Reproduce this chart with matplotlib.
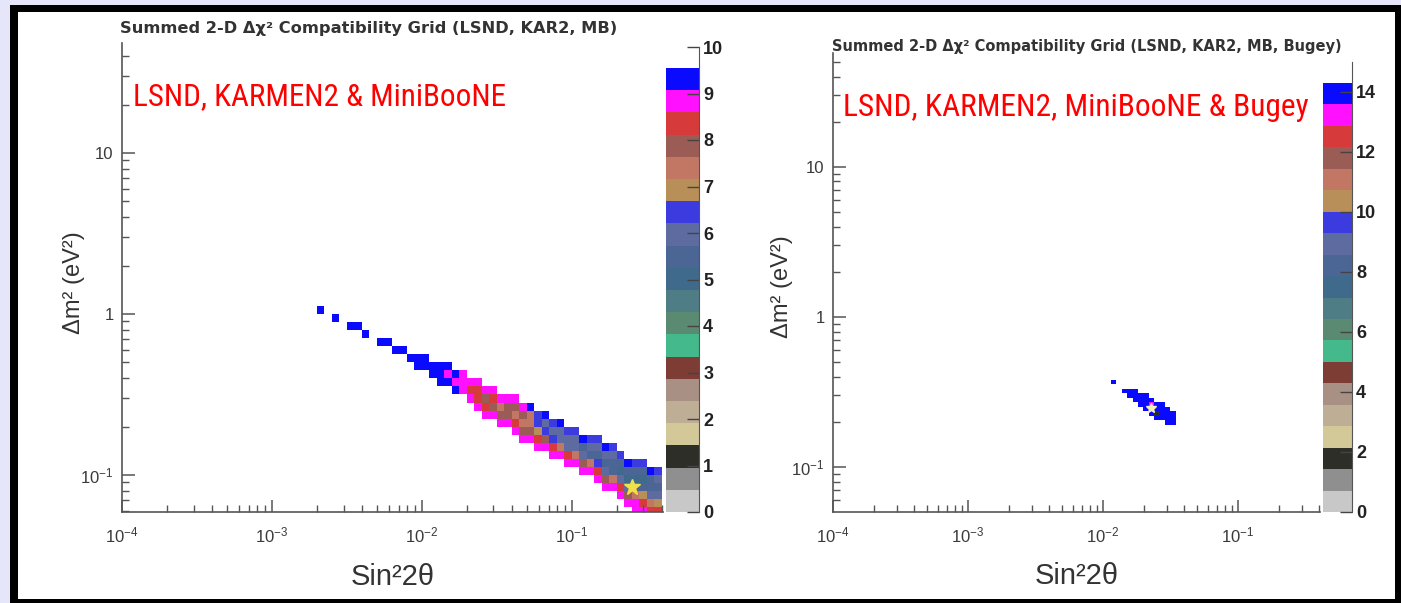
import numpy as np
import matplotlib
matplotlib.use('Agg')
import matplotlib.pyplot as plt
from matplotlib.colors import ListedColormap, BoundaryNorm
from matplotlib.patches import Rectangle
from matplotlib.font_manager import FontProperties, fontManager

W, H = 1401, 603

plt.rcParams['font.family'] = ['Liberation Sans', 'DejaVu Sans']
plt.rcParams['mathtext.fontset'] = 'custom'
plt.rcParams['mathtext.rm'] = 'Liberation Sans'
plt.rcParams['mathtext.it'] = 'Liberation Sans:italic'

# ROOT-like 20 level palette, low -> high
palette = ['#c8c8c8', '#8f8f8f', '#2e2e28', '#d2c898', '#bfae96',
           '#a99085', '#7d3d35', '#44b98c', '#5b8a72', '#4f7d86',
           '#3f6a8c', '#4b6595', '#5d6ba0', '#3b3be0', '#b88f58',
           '#c27765', '#9a5c55', '#d63a3a', '#ff10ff', '#0a0aff']

# ---- left panel: LSND, KARMEN2 & MiniBooNE ----
lsnd_zmax = 9.55
lsnd_zaxis = 10
# lowest dm2 of the allowed band in each sin^2 2theta column (0.05 decade wide)
lsnd_dm2_bottom = [1.0, 1.0, 0.891, 0.891, 0.794, 0.794, 0.708, 0.708, 0.631, 0.631,
                   0.562, 0.562, 0.501, 0.447, 0.447, 0.398, 0.355, 0.355, 0.316, 0.316,
                   0.282, 0.251, 0.224, 0.224, 0.200, 0.200, 0.178, 0.158, 0.158, 0.141,
                   0.141, 0.126, 0.126, 0.112, 0.112, 0.100, 0.100, 0.0891, 0.0794, 0.0794,
                   0.0708, 0.0631, 0.0562, 0.0562, 0.0501, 0.0501]
# summed delta chi2 of the band cells, bottom -> top
lsnd_chi2 = [
    [9.4], [], [9.3], [], [9.4], [9.3], [9.4], [], [9.3], [9.2],
    [9.3], [9.2], [9.3], [9.3, 9.2], [9.2, 9.3], [9.3, 9.1],
    [9.4, 9.1, 9.3], [9.2, 8.9, 9.4], [9.3, 8.8, 9.2], [8.9, 8.6, 9.0],
    [8.8, 8.4, 8.9], [9.0, 8.3, 8.2, 8.9], [8.9, 8.2, 7.9, 8.8], [8.8, 7.9, 8.3, 9.0],
    [8.9, 8.1, 7.6, 8.8], [8.8, 7.7, 7.9, 8.9],
    [9.0, 8.3, 7.5, 7.8, 8.9], [8.9, 8.1, 7.4, 7.9, 8.8], [8.8, 7.8, 7.2, 7.6, 9.2],
    [8.9, 8.2, 6.9, 6.5, 6.4], [8.8, 7.8, 6.4, 6.1, 9.3], [9.0, 8.3, 6.3, 6.0, 6.4],
    [8.8, 7.6, 6.1, 5.9, 9.3], [8.9, 8.2, 6.0, 5.8, 6.4], [8.8, 7.4, 5.9, 6.2, 6.5],
    [8.9, 8.1, 5.8, 5.6, 9.2], [8.8, 7.2, 5.7, 6.0, 6.5],
    [9.0, 8.3, 6.4, 5.5, 5.9, 6.4], [8.9, 8.0, 5.8, 5.4, 6.1, 9.3],
    [8.8, 7.5, 5.6, 5.3, 5.8, 6.4], [8.9, 8.2, 6.2, 5.2, 5.5, 6.5],
    [8.8, 7.9, 5.9, 5.1, 5.4, 9.1],
    [9.0, 8.6, 7.4, 5.6, 5.0, 5.5, 6.4], [8.9, 8.3, 6.8, 5.4, 5.1, 5.7, 6.4],
    [8.8, 8.5, 7.6, 6.1, 5.3, 5.6, 9.2], [8.9, 8.2, 7.1, 5.8, 5.4, 5.9, 6.5],
]

# ---- right panel: + Bugey ----
bugey_zmax = 14.3
bugey_zaxis = 15
bugey_dm2_bottom = [0.355, 0.355, 0.309, 0.288, 0.269, 0.251, 0.234, 0.219,
                    0.204, 0.204, 0.191, 0.191]
bugey_chi2 = [
    [14.0], [], [14.1], [13.9, 14.1], [14.0, 13.8, 14.1], [14.1, 13.7, 14.0],
    [14.0, 13.6, 13.9, 14.1], [14.1, 13.8, 13.5, 14.0], [13.9, 2.0, 13.7, 14.1],
    [14.0, 13.8, 13.9, 14.2], [14.0, 14.1, 13.9, 14.0], [14.1, 14.0, 14.1],
]

best_fit_s2t = [0.25, 0.0227]
best_fit_dm2 = [0.084, 0.247]

titles = ['Summed 2-D \u0394\u03c7\u00b2 Compatibility Grid (LSND, KAR2, MB)',
          'Summed 2-D \u0394\u03c7\u00b2 Compatibility Grid (LSND, KAR2, MB, Bugey)']
labels = ['LSND, KARMEN2 & MiniBooNE', 'LSND, KARMEN2, MiniBooNE & Bugey']


def find_narrow_font():
    prefer = ['Liberation Sans Narrow', 'Roboto Condensed', 'Open Sans Condensed',
              'Noto Sans Condensed', 'DejaVu Sans Condensed']
    found = {}
    for f in fontManager.ttflist:
        narrow = ('Narrow' in f.name or 'Condensed' in f.name
                  or str(f.stretch) in ('condensed', 'semi-condensed'))
        if narrow and str(f.weight) in ('400', 'normal', 'regular') and f.style == 'normal':
            found.setdefault(f.name, f.fname)
    for name in prefer:
        if name in found:
            return FontProperties(fname=found[name])
    if found:
        return FontProperties(fname=sorted(found.items())[0][1])
    return FontProperties(family='Liberation Sans')


def fig_rect(x0, y0, x1, y1):
    return [x0 / W, 1 - y1 / H, (x1 - x0) / W, (y1 - y0) / H]


def build_grid(x_edges, y_edges, bottoms, columns):
    z = np.full((len(y_edges) - 1, len(x_edges) - 1), np.nan)
    ly = np.log10(y_edges)
    for j, (b, vals) in enumerate(zip(bottoms, columns)):
        if not vals:
            continue
        k0 = int(np.argmin(np.abs(ly - np.log10(b))))
        z[k0:k0 + len(vals), j] = vals
    return np.ma.masked_invalid(z)


def style_axes(ax, ylim):
    ax.set_xscale('log')
    ax.set_yscale('log')
    ax.set_xlim(1e-4, 0.405)
    ax.set_ylim(*ylim)
    ax.patch.set_visible(False)
    for s in ('top', 'right'):
        ax.spines[s].set_visible(False)
    for s in ('left', 'bottom'):
        ax.spines[s].set_color('#555555')
        ax.spines[s].set_linewidth(1.2)
    ax.set_xticks([1e-4, 1e-3, 1e-2, 1e-1])
    ax.set_xticklabels(['$10^{-4}$', '$10^{-3}$', '$10^{-2}$', '$10^{-1}$'])
    ax.set_yticks([0.1, 1, 10])
    ax.set_yticklabels(['$10^{-1}$', '1', '10'])
    ax.xaxis.set_minor_locator(matplotlib.ticker.LogLocator(base=10, subs=np.arange(2, 10), numticks=30))
    ax.yaxis.set_minor_locator(matplotlib.ticker.LogLocator(base=10, subs=np.arange(2, 10), numticks=30))
    ax.xaxis.set_minor_formatter(matplotlib.ticker.NullFormatter())
    ax.yaxis.set_minor_formatter(matplotlib.ticker.NullFormatter())
    ax.tick_params(which='major', direction='in', length=9, width=1.1, color='#555555',
                   labelsize=12, labelcolor='#3a3a3a', pad=6)
    ax.tick_params(axis='x', which='major', pad=10)
    ax.tick_params(which='minor', direction='in', length=5, width=1.0, color='#555555')
    ax.set_xlabel('Sin\u00b22\u03b8', fontsize=21, color='#333333')
    ax.set_ylabel('\u0394m\u00b2 (eV\u00b2)', fontsize=17, color='#333333')


def draw_palette(cax, zmax, zaxis, step):
    levels = np.linspace(0, zmax, len(palette) + 1)
    centers = 0.5 * (levels[:-1] + levels[1:])
    cmap = ListedColormap(palette)
    norm = BoundaryNorm(levels, cmap.N)
    cax.pcolormesh([0, 1], levels, centers[:, None], cmap=cmap, norm=norm)
    cax.set_xlim(0, 1)
    cax.set_ylim(0, zaxis)
    cax.patch.set_visible(False)
    for s in ('top', 'left', 'bottom'):
        cax.spines[s].set_visible(False)
    cax.spines['right'].set_color('#555555')
    cax.set_xticks([])
    cax.yaxis.tick_right()
    cax.set_yticks(np.arange(0, zaxis + 0.01, step))
    cax.tick_params(axis='y', direction='in', length=9, width=1.0, color='#444444',
                    labelsize=13, labelcolor='#222222', pad=3)
    for t in cax.get_yticklabels():
        t.set_fontweight('bold')
    return cmap, norm


fig = plt.figure(figsize=(W / 100, H / 100), dpi=100)
fig.patch.set_facecolor('#e6e6fa')
fig.add_artist(Rectangle((10 / W, 0), (W - 10) / W, (H - 5) / H, transform=fig.transFigure,
                         facecolor='black', edgecolor='none', zorder=-10))
fig.add_artist(Rectangle((18 / W, 4 / H), (1395 - 18) / W, (599 - 12) / H, transform=fig.transFigure,
                         facecolor='white', edgecolor='none', zorder=-9))

# left panel
ax1 = fig.add_axes(fig_rect(122, 43, 663, 512))
cax1 = fig.add_axes(fig_rect(666, 47, 699, 512))
cmap1, norm1 = draw_palette(cax1, lsnd_zmax, lsnd_zaxis, 1)
x1 = np.logspace(-2.7, -0.4, 47)
y1 = np.logspace(-1.3, 0.2, 31)
style_axes(ax1, (0.0589, 48.2))
ax1.pcolormesh(x1, y1, build_grid(x1, y1, lsnd_dm2_bottom, lsnd_chi2), cmap=cmap1, norm=norm1)
ax1.plot(best_fit_s2t[0], best_fit_dm2[0], marker='*', ms=12, color='#f2e04a', mec='#f2e04a')
ax1.xaxis.set_label_coords(0.5, -0.108)
ax1.yaxis.set_label_coords(-0.068, 0.49)

# right panel
ax2 = fig.add_axes(fig_rect(833, 53, 1320, 512))
cax2 = fig.add_axes(fig_rect(1323, 62, 1352, 512))
cmap2, norm2 = draw_palette(cax2, bugey_zmax, bugey_zaxis, 2)
x2 = np.logspace(-1.94, -1.46, 13)
y2 = np.logspace(-0.75, -0.3, 16)
style_axes(ax2, (0.0501, 57.5))
ax2.pcolormesh(x2, y2, build_grid(x2, y2, bugey_dm2_bottom, bugey_chi2), cmap=cmap2, norm=norm2)
ax2.plot(best_fit_s2t[1], best_fit_dm2[1], marker='*', ms=7, color='#f4f0b0', mec='#f4f0b0')
ax2.xaxis.set_label_coords(0.5, -0.11)
ax2.yaxis.set_label_coords(-0.082, 0.49)

# titles and labels
title_font = ['DejaVu Sans']
t1 = fig.text(120 / W, 1 - 29 / H, titles[0], fontsize=10.5, fontweight='bold', color='#333333',
              va='center', family=title_font)
t2 = fig.text(832 / W, 1 - 46 / H, titles[1], fontsize=10, fontweight='bold', color='#333333',
              va='center', family=title_font)
red_font = find_narrow_font()
r1 = fig.text(133 / W, 1 - 97 / H, labels[0], fontproperties=red_font, fontsize=22, color='red', va='center')
r2 = fig.text(843 / W, 1 - 108 / H, labels[1], fontproperties=red_font, fontsize=22, color='red', va='center')

# match the text widths seen in the reference
fig.canvas.draw()
renderer = fig.canvas.get_renderer()
for t, width in ((t1, 497), (t2, 510), (r1, 372), (r2, 464)):
    w = t.get_window_extent(renderer).width
    t.set_fontsize(t.get_fontsize() * width / w)

fig.savefig('out.png', dpi=100, facecolor=fig.get_facecolor())
